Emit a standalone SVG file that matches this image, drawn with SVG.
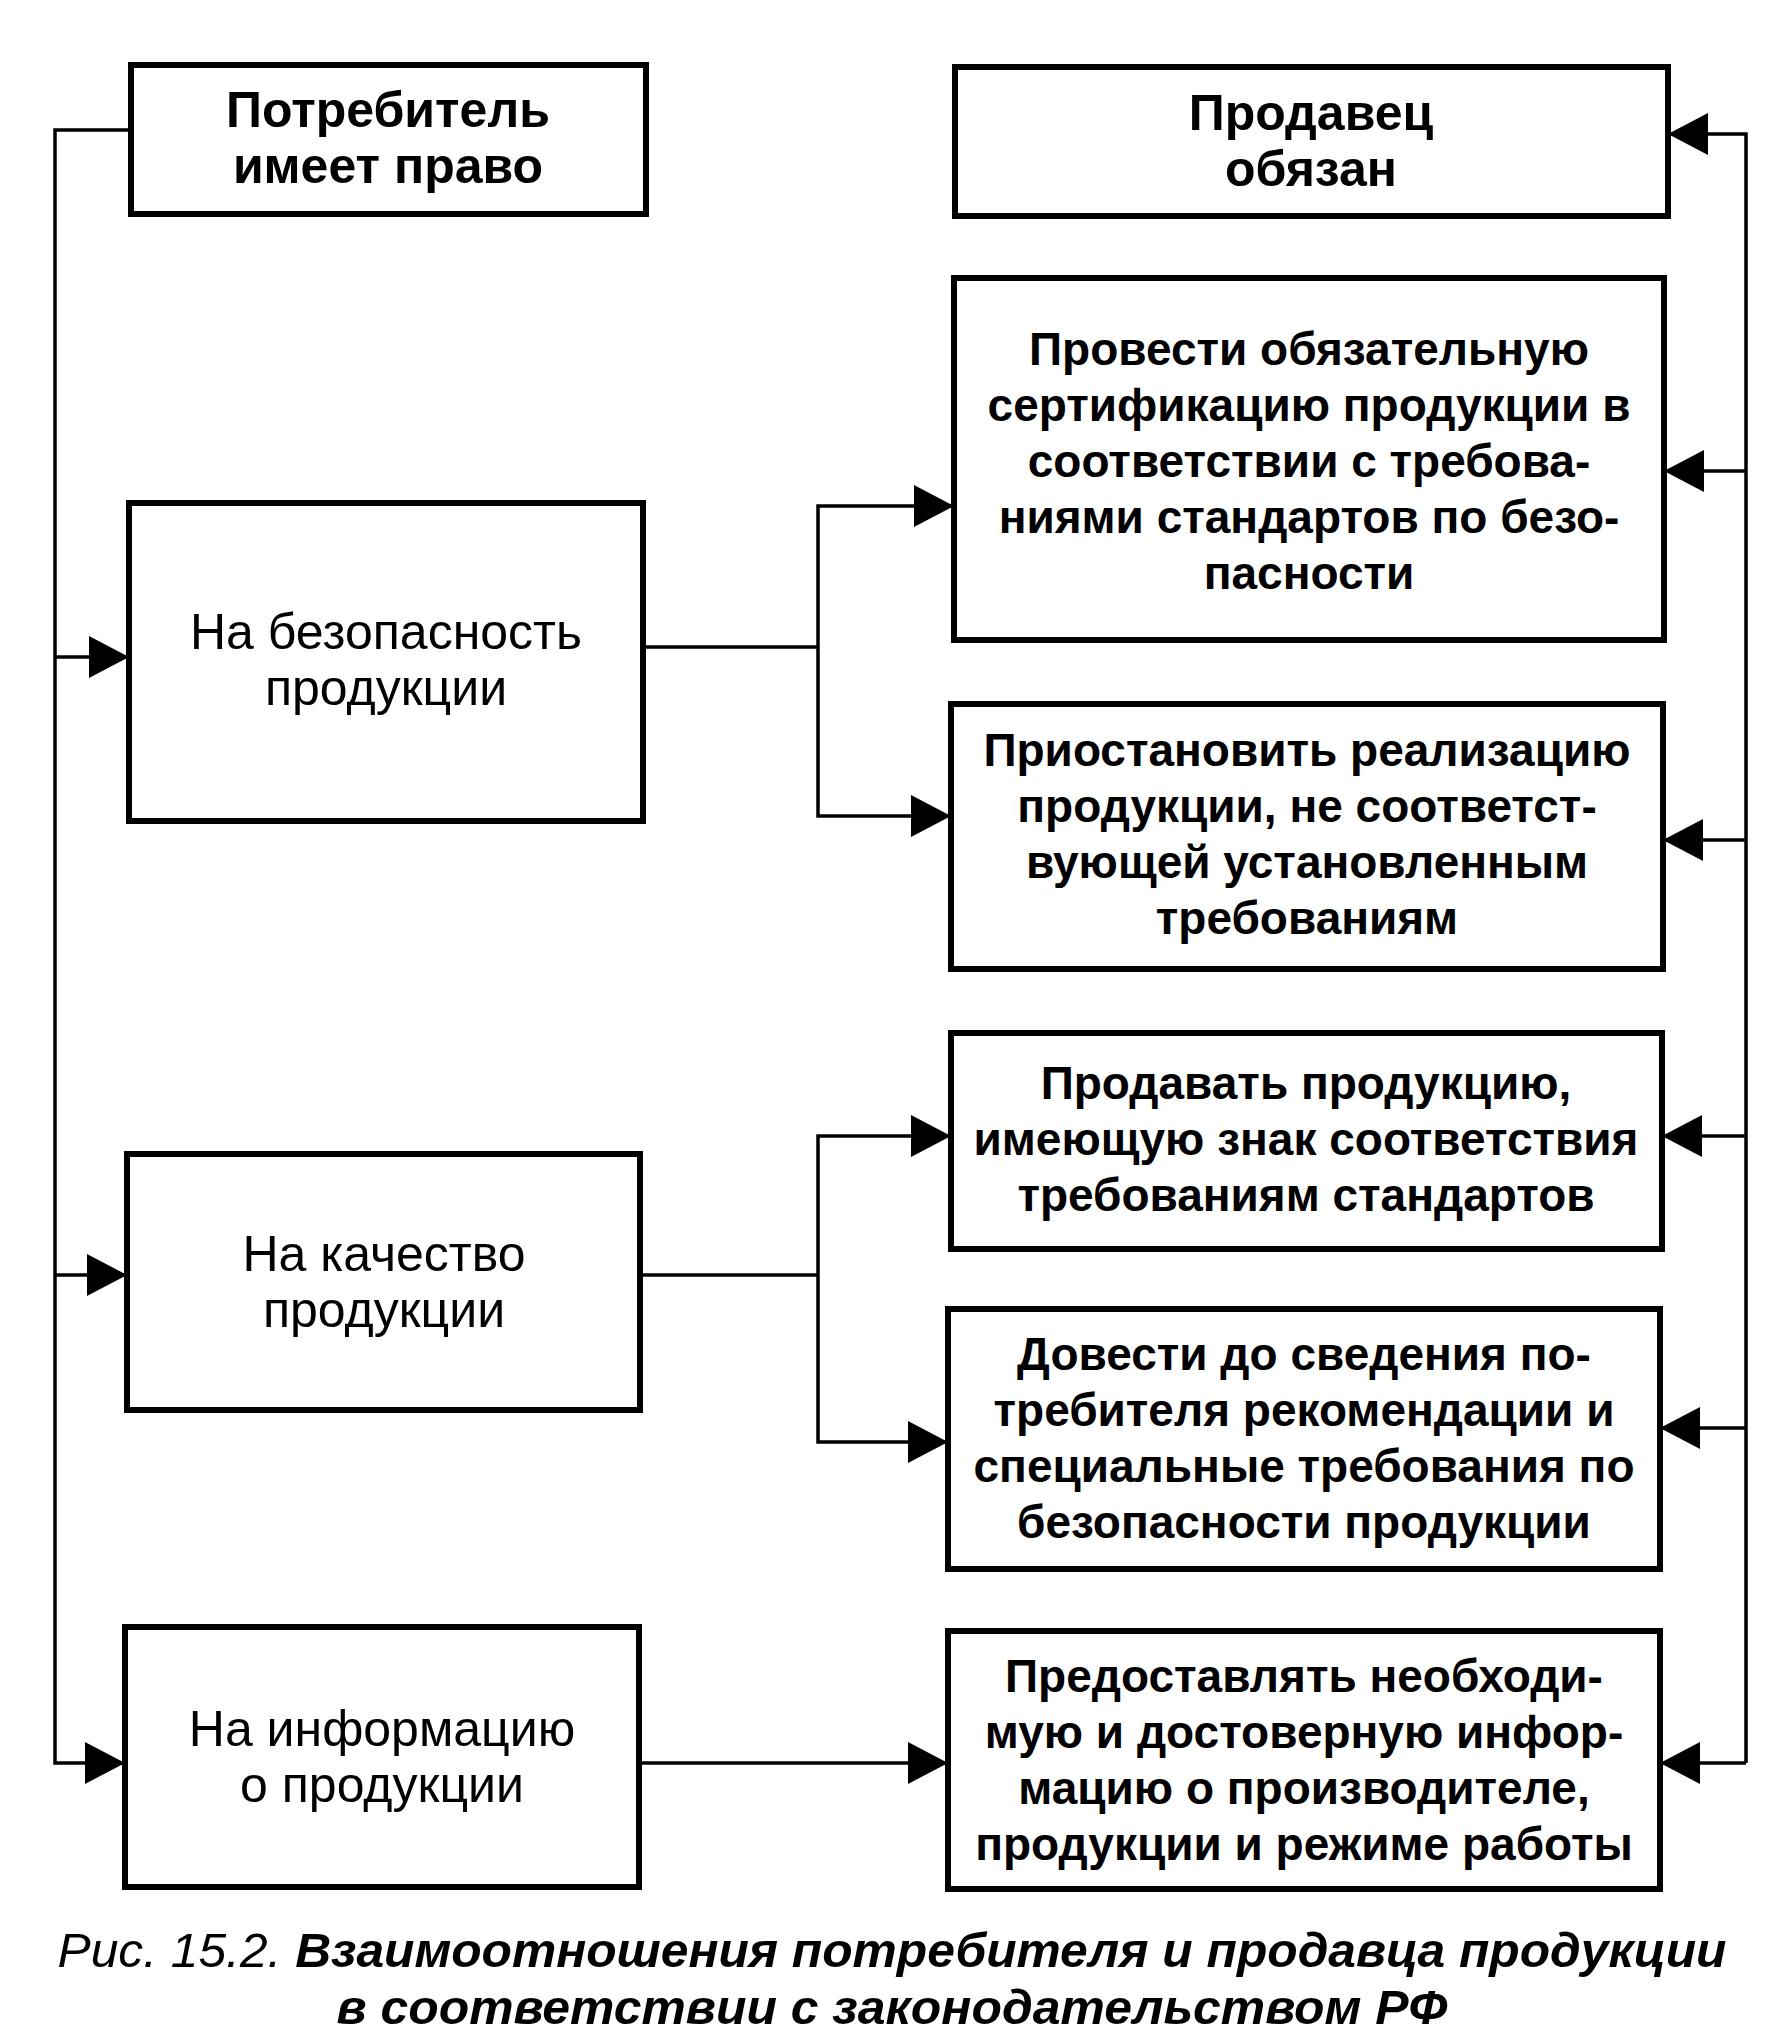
<svg xmlns="http://www.w3.org/2000/svg" width="1768" height="2040" viewBox="0 0 1768 2040">
<style>
.box{fill:#fff;stroke:#000;stroke-width:6}
.c{fill:none;stroke:#000;stroke-width:3.5}
.t{font-family:"Liberation Sans",Arial,sans-serif;font-size:50px;text-anchor:middle;fill:#000}
.h{font-weight:bold}
.r{font-family:"Liberation Sans",Arial,sans-serif;font-size:46px;font-weight:bold;text-anchor:middle;fill:#000}
.cap{font-family:"Liberation Sans",Arial,sans-serif;font-size:48px;font-style:italic;text-anchor:middle;fill:#000}
</style>
<defs>
<marker id="ar" markerUnits="userSpaceOnUse" markerWidth="42" markerHeight="44" refX="40" refY="21" orient="auto">
<path d="M0,0 L40,21 L0,42 z" fill="#000"/>
</marker>
</defs>
<rect width="1768" height="2040" fill="#fff"/>
<g id="connectors">
<path class="c" d="M131,130 H55 V1763 H125" marker-end="url(#ar)"/>
<path class="c" d="M55,657 H129" marker-end="url(#ar)"/>
<path class="c" d="M55,1275 H127" marker-end="url(#ar)"/>
<path class="c" d="M643,647 H818"/>
<path class="c" d="M818,647 V506 H954" marker-end="url(#ar)"/>
<path class="c" d="M818,647 V816 H951" marker-end="url(#ar)"/>
<path class="c" d="M640,1275 H818"/>
<path class="c" d="M818,1275 V1136 H951" marker-end="url(#ar)"/>
<path class="c" d="M818,1275 V1442 H948" marker-end="url(#ar)"/>
<path class="c" d="M639,1763 H948" marker-end="url(#ar)"/>
<path class="c" d="M1746,1763 V134 H1668" marker-end="url(#ar)"/>
<path class="c" d="M1746,471 H1664" marker-end="url(#ar)"/>
<path class="c" d="M1746,840 H1663" marker-end="url(#ar)"/>
<path class="c" d="M1746,1136 H1662" marker-end="url(#ar)"/>
<path class="c" d="M1746,1428 H1660" marker-end="url(#ar)"/>
<path class="c" d="M1746,1763 H1660" marker-end="url(#ar)"/>
</g>
<g id="consumer">
<rect class="box" x="131" y="65" width="515" height="149"/>
<text class="t h" x="388" y="127">Потребитель</text>
<text class="t h" x="388" y="183">имеет право</text>
</g>
<g id="safety">
<rect class="box" x="129" y="503" width="514" height="318"/>
<text class="t" x="386" y="649">На безопасность</text>
<text class="t" x="386" y="705">продукции</text>
</g>
<g id="quality">
<rect class="box" x="127" y="1154" width="513" height="256"/>
<text class="t" x="384" y="1271">На качество</text>
<text class="t" x="384" y="1327">продукции</text>
</g>
<g id="info">
<rect class="box" x="125" y="1627" width="514" height="260"/>
<text class="t" x="382" y="1746">На информацию</text>
<text class="t" x="382" y="1802">о продукции</text>
</g>
<g id="seller">
<rect class="box" x="955" y="67" width="713" height="149"/>
<text class="t h" x="1311" y="130">Продавец</text>
<text class="t h" x="1311" y="186">обязан</text>
</g>
<g id="certify">
<rect class="box" x="954" y="278" width="710" height="362"/>
<text class="r" x="1309" y="365">Провести обязательную</text>
<text class="r" x="1309" y="421">сертификацию продукции в</text>
<text class="r" x="1309" y="477">соответствии с требова-</text>
<text class="r" x="1309" y="533">ниями стандартов по безо-</text>
<text class="r" x="1309" y="589">пасности</text>
</g>
<g id="suspend">
<rect class="box" x="951" y="704" width="712" height="265"/>
<text class="r" x="1307" y="766">Приостановить реализацию</text>
<text class="r" x="1307" y="822">продукции, не соответст-</text>
<text class="r" x="1307" y="878">вующей установленным</text>
<text class="r" x="1307" y="934">требованиям</text>
</g>
<g id="sell">
<rect class="box" x="951" y="1033" width="711" height="216"/>
<text class="r" x="1306" y="1099">Продавать продукцию,</text>
<text class="r" x="1306" y="1155">имеющую знак соответствия</text>
<text class="r" x="1306" y="1211">требованиям стандартов</text>
</g>
<g id="inform">
<rect class="box" x="948" y="1309" width="712" height="260"/>
<text class="r" x="1304" y="1370">Довести до сведения по-</text>
<text class="r" x="1304" y="1426">требителя рекомендации и</text>
<text class="r" x="1304" y="1482">специальные требования по</text>
<text class="r" x="1304" y="1538">безопасности продукции</text>
</g>
<g id="provide">
<rect class="box" x="948" y="1631" width="712" height="258"/>
<text class="r" x="1304" y="1692">Предоставлять необходи-</text>
<text class="r" x="1304" y="1748">мую и достоверную инфор-</text>
<text class="r" x="1304" y="1804">мацию о производителе,</text>
<text class="r" x="1304" y="1860">продукции и режиме работы</text>
</g>
<g id="caption">
<text class="cap" x="892" y="1967" textLength="1669" lengthAdjust="spacingAndGlyphs">Рис. 15.2. <tspan font-weight="bold">Взаимоотношения потребителя и продавца продукции</tspan></text>
<text class="cap" x="892" y="2024" font-weight="bold" textLength="1111" lengthAdjust="spacingAndGlyphs">в соответствии с законодательством РФ</text>
</g>
</svg>
